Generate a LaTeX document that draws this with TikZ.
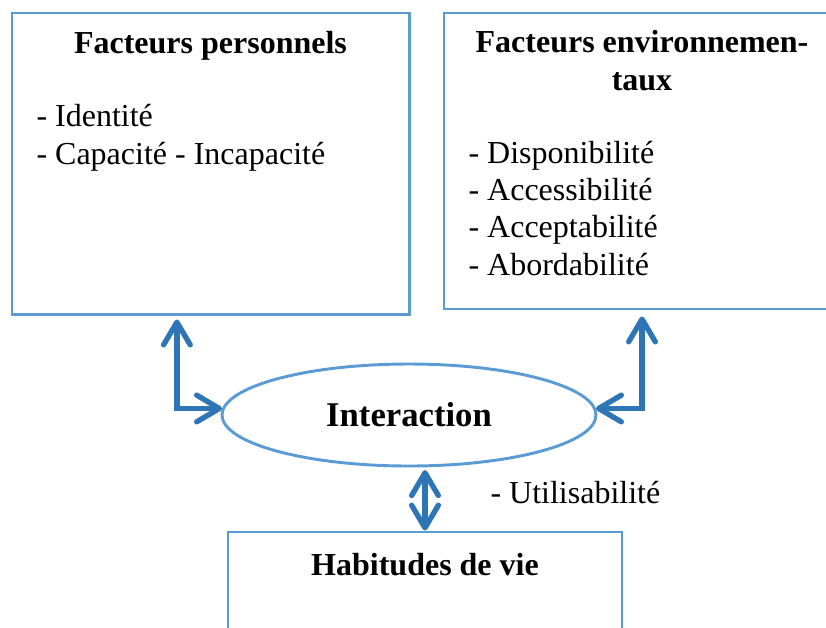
\documentclass[tikz,border=0pt]{standalone}
\usepackage{fontspec}
\setmainfont{Liberation Serif}
\usetikzlibrary{shapes.geometric,arrows.meta}
\definecolor{boxblue}{HTML}{5B9BD5}
\definecolor{arrowblue}{HTML}{2E75B6}
\tikzset{
box/.style={draw=boxblue, line width=1.1pt, rectangle, inner sep=0pt},
link/.style={draw=arrowblue, line width=2pt,
  {Straight Barb[length=8.5pt,width=10pt,round]}-{Straight Barb[length=8.5pt,width=10pt,round]}},
txt/.style={font=\fontsize{12}{13.9}\selectfont, inner sep=0pt, align=left},
titre/.style={font=\fontsize{12}{13.9}\selectfont\bfseries, inner sep=0pt, align=center}
}
\begin{document}
\begin{tikzpicture}[x=0.375pt,y=-0.375pt]
\useasboundingbox (0,0) rectangle (826,627);
\node[box, minimum width=148.9pt, minimum height=112.9pt] (persos) at (210.5,163.5) {};
\node[box, minimum width=148.5pt, minimum height=111pt] (envir) at (642,161) {};
\node[box, minimum width=147.75pt, minimum height=63pt] (habit) at (425,616) {};
\node[ellipse, draw=boxblue, line width=1.1pt, minimum width=140.25pt, minimum height=38.25pt,
  inner sep=0pt, font=\fontsize{13}{15}\selectfont\bfseries] (inter) at (409,415) {Interaction};
\node[titre, anchor=base] (tpersos) at (210.5,53) {Facteurs personnels};
\node[titre, anchor=base] (tenvir) at (642,90) {Facteurs environnemen-\\taux};
\node[txt, anchor=base west] (lpersos) at (36,164) {- Identité\\- Capacité - Incapacité};
\node[txt, anchor=base west] (lenvir) at (468,275)
  {- Disponibilité\\- Accessibilité\\- Acceptabilité\\- Abordabilité};
\node[titre, anchor=base] (thabit) at (425,575) {Habitudes de vie};
\node[txt, anchor=base west] (util) at (490,503) {- Utilisabilité};
% fleches
\draw[link] ([xshift=-12.6pt,yshift=-1.5pt]persos.south) |- (inter.178);
\draw[link] ([yshift=-2.25pt]envir.south) |- (inter.2);
\draw[link] ([yshift=-1pt]inter.south -| habit.north) -- (habit.north);
\end{tikzpicture}
\end{document}
